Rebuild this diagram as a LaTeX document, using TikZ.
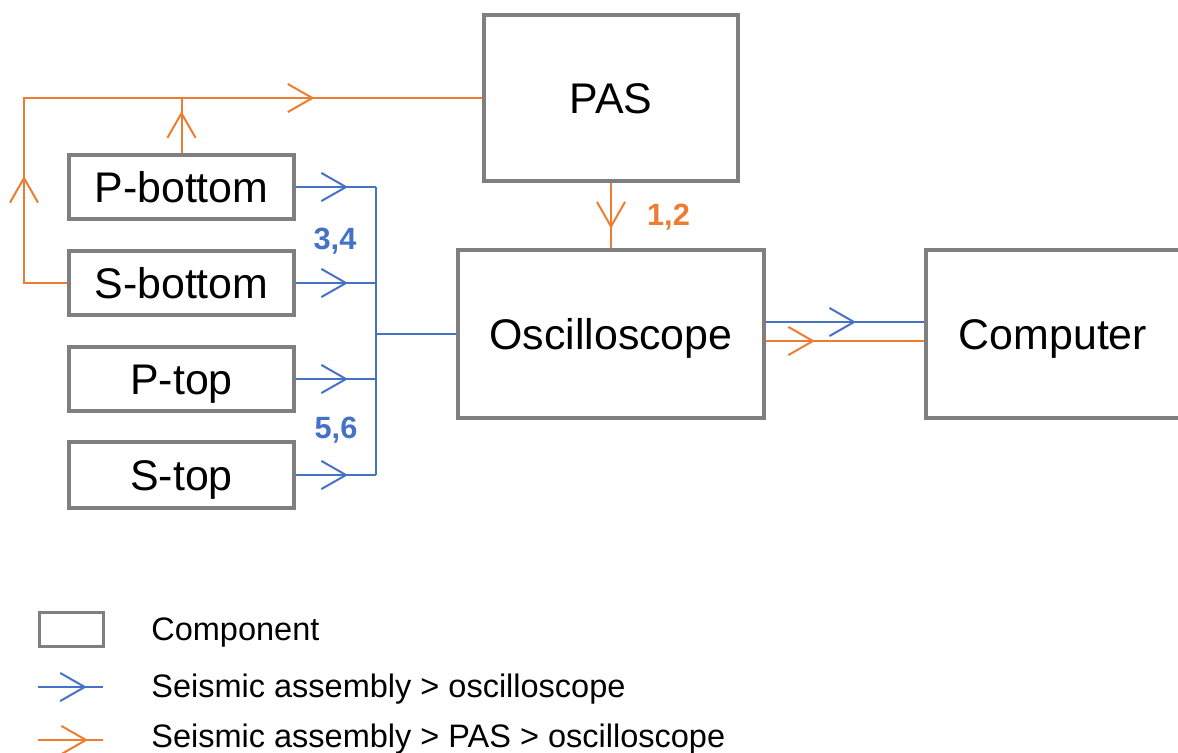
\documentclass[tikz,border=0pt]{standalone}
\usepackage{fontspec}
\setmainfont{Liberation Sans}
\usetikzlibrary{arrows.meta,decorations.markings,calc}

\definecolor{boxgray}{HTML}{7F7F7F}
\definecolor{sigblue}{HTML}{4472C4}
\definecolor{sigorange}{HTML}{ED7D31}

\tikzset{
  comp/.style={draw=boxgray, line width=0.08cm, rectangle, inner sep=0pt,
    text height=0.616cm, text depth=0pt,
    font=\fontsize{24.4}{29}\selectfont},
  wire/.style={line width=0.04cm},
  bluewire/.style={wire, color=sigblue},
  orangewire/.style={wire, color=sigorange},
  chevtip/.tip={Straight Barb[length=14pt, width=16pt]},
  chevat/.style={postaction={decorate, decoration={markings,
    mark=at position #1 with {\arrow{chevtip}}}}},
  tag/.style={font=\bfseries\fontsize{17.5}{20}\selectfont, inner sep=0pt,
    text height=0.44cm, text depth=0pt},
  legtext/.style={font=\fontsize{18.5}{22}\selectfont, anchor=west, inner sep=0pt,
    text height=0.465cm, text depth=0pt},
}

\begin{document}
\begin{tikzpicture}[x=0.02cm, y=-0.02cm]
  \fill[white] (0,0) rectangle (1178,752);
  \useasboundingbox (0,0) rectangle (1178,752);
  \clip (0,0) rectangle (1178,752);

  % components
  \node[comp, minimum width=5.1cm,  minimum height=3.32cm] (pas)  at (611,98)     {PAS};
  \node[comp, minimum width=4.5cm,  minimum height=1.28cm] (pb)   at (181.5,187)  {P-bottom};
  \node[comp, minimum width=4.5cm,  minimum height=1.28cm] (sb)   at (181.5,283)  {S-bottom};
  \node[comp, minimum width=4.5cm,  minimum height=1.28cm] (pt)   at (181.5,379)  {P-top};
  \node[comp, minimum width=4.5cm,  minimum height=1.32cm] (st)   at (181.5,475)  {S-top};
  \node[comp, minimum width=6.12cm, minimum height=3.36cm] (osc)  at (611,334)    {Oscilloscope};
  \node[comp, minimum width=5.28cm, minimum height=3.36cm] (comp) at (1058,334)   {\hspace*{-0.2cm}Computer};

  % blue bus from the sensors to the oscilloscope
  \coordinate (bus) at (376,334);
  \draw[bluewire, chevat=0.65] (pb.east) -- (pb.east -| bus);
  \draw[bluewire, chevat=0.65] (sb.east) -- (sb.east -| bus);
  \draw[bluewire, chevat=0.65] (pt.east) -- (pt.east -| bus);
  \draw[bluewire, chevat=0.65] (st.east) -- (st.east -| bus);
  \draw[bluewire] (pb.east -| bus) -- (st.east -| bus);
  \draw[bluewire] (bus) -- (osc.west);

  % orange path through the PAS
  \coordinate (lc) at (24,98);
  \draw[orangewire, chevat=3.0cm, chevat=10.37cm]
    (sb.west) -- (sb.west -| lc) -- (lc) -- (lc -| pas.west);
  \draw[orangewire, chevat=0.76] (pb.north) -- (pb.north |- lc);
  \draw[orangewire, chevat=0.70] (pas.south) -- (pas.south |- osc.north);

  % oscilloscope to computer
  \draw[bluewire, chevat=0.57] ($(osc.east)+(0,-12)$) coordinate (b0) -- (b0 -| comp.west);
  \draw[orangewire, chevat=0.31] ($(osc.east)+(0,7)$) coordinate (o0) -- (o0 -| comp.west);

  % channel tags
  \node[tag, text=sigorange] (t12) at (668.5,214)   {1,2};
  \node[tag, text=sigblue]   (t34) at (335,238.5)   {3,4};
  \node[tag, text=sigblue]   (t56) at (336,427.5)   {5,6};

  % legend
  \node[draw=boxgray, line width=0.06cm, minimum width=1.28cm, minimum height=0.68cm, inner sep=0pt]
    (legbox) at (71.5,629.5) {};
  \node[legtext] (legc) at (151,629) {Component};
  \coordinate (lb0) at (38,687);
  \coordinate (lb1) at (103,687);
  \draw[bluewire, chevat=0.75] (lb0) -- (lb1);
  \node[legtext] (legb) at (151,686) {Seismic assembly > oscilloscope};
  \coordinate (lo0) at (38,740);
  \coordinate (lo1) at (103,740);
  \draw[orangewire, chevat=0.77] (lo0) -- (lo1);
  \node[legtext] (lego) at (151,736) {Seismic assembly > PAS > oscilloscope};
\end{tikzpicture}
\end{document}
